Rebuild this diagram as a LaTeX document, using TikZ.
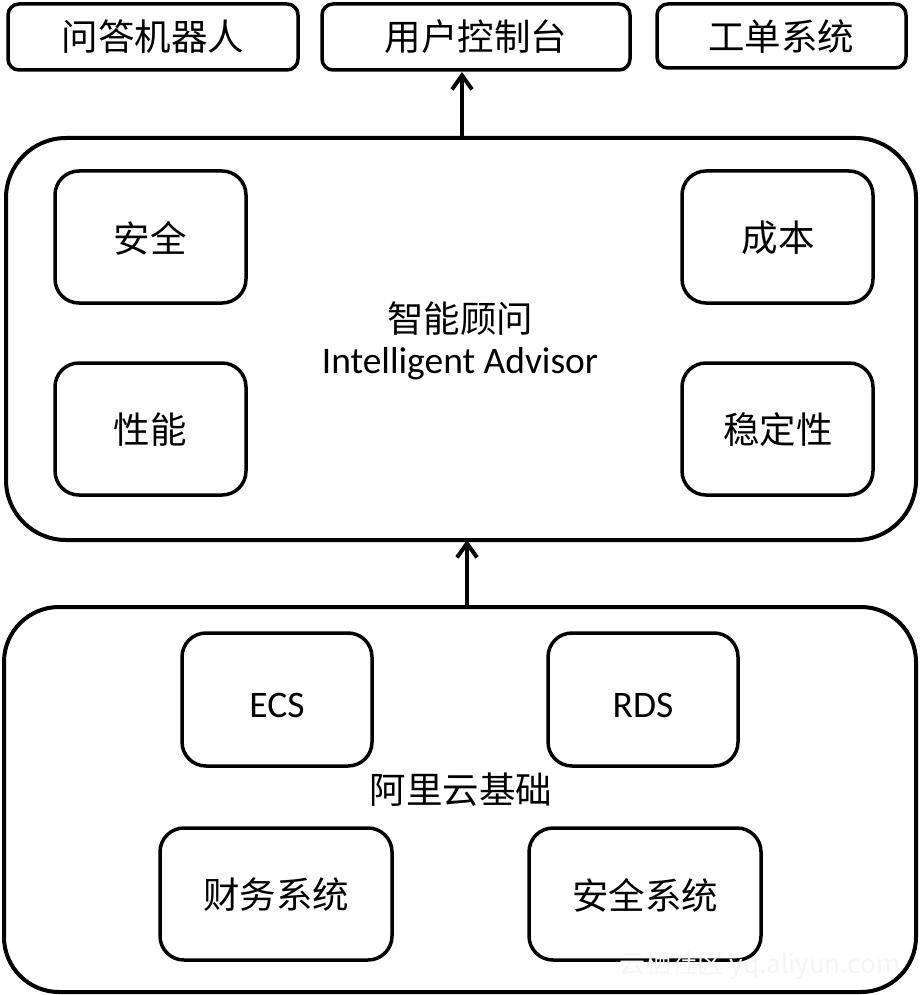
\documentclass[tikz,border=0pt]{standalone}
\usepackage{fontspec}
\newfontfamily\cjk{Noto Sans CJK SC}[Scale=1]
\newfontfamily\lat{Carlito}
\usetikzlibrary{arrows.meta}
\tikzset{
  outer/.style={draw, line width=4pt, rounded corners=55pt},
  topbox/.style={draw, line width=3.5pt, rounded corners=11pt},
  inbox/.style={draw, line width=3.5pt, rounded corners=24pt},
  cjktext/.style={font=\cjk\fontsize{36.5}{40}\selectfont},
  lattext/.style={font=\lat\fontsize{37.5}{42}\selectfont},
  uparrow/.style={line width=4pt, -{Straight Barb[length=14pt,width=20pt,line width=4pt]}},
}
\begin{document}
\begin{tikzpicture}[x=1pt,y=-1pt]
\useasboundingbox (0,0) rectangle (921,995);
% top row
\draw[topbox] (8,4) rectangle (298,70);
\node[cjktext] (qa) at (153,37) {问答机器人};
\draw[topbox] (322,4) rectangle (630,70);
\coordinate (consoleb) at (462,72);
\node[cjktext] (console) at (476,37) {用户控制台};
\draw[topbox] (657,4) rectangle (906,68);
\node[cjktext] (ticket) at (781,37) {工单系统};
% advisor
\draw[outer, rounded corners=60pt] (6,138) rectangle (916,540);
\coordinate (advtop) at (462,138);
\coordinate (advbot) at (467,540);
\draw[inbox] (55,171) rectangle (246,303);
\node[cjktext] (sec) at (150,238) {安全};
\draw[inbox] (682,171) rectangle (873,303);
\node[cjktext] (cost) at (778,238) {成本};
\draw[inbox] (55,363) rectangle (246,495);
\node[cjktext] (perf) at (150,430) {性能};
\draw[inbox] (682,363) rectangle (873,495);
\node[cjktext] (stab) at (778,430) {稳定性};
\node[cjktext] (advcn) at (460,319) {智能顾问};
\node[lattext] (adven) at (460,364) {Intelligent Advisor};
% base
\draw[outer] (4,607) rectangle (916,992);
\coordinate (basetop) at (467,607);
\draw[inbox] (182,633) rectangle (372,766);
\node[lattext] (ecs) at (277,705) {ECS};
\draw[inbox] (548,633) rectangle (738,766);
\node[lattext] (rds) at (643,705) {RDS};
\node[cjktext] (basecn) at (461,790) {阿里云基础};
\draw[inbox] (160,828) rectangle (392,960);
\node[cjktext] (fin) at (276,895) {财务系统};
\draw[inbox] (529,828) rectangle (761,960);
\node[cjktext] (secsys) at (645,895) {安全系统};
% arrows
\draw[uparrow] (advtop) -- (consoleb);
\draw[uparrow] (basetop) -- (advbot);
% watermark
\node[font=\cjk\fontsize{26}{30}\selectfont, text=black!4] (wm) at (760,966) {云栖社区 yq.aliyun.com};
\end{tikzpicture}
\end{document}
